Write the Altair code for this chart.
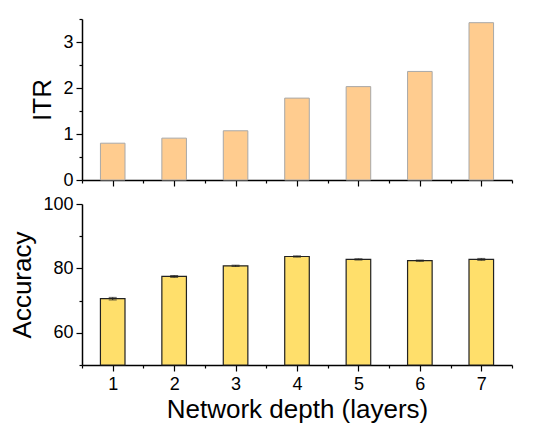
import altair as alt
import pandas as pd

depth = [1, 2, 3, 4, 5, 6, 7]
itr = [0.80, 0.91, 1.07, 1.78, 2.03, 2.36, 3.42]
accuracy = [70.6, 77.5, 80.8, 83.7, 82.8, 82.4, 82.8]
acc_err = [0.4, 0.3, 0.2, 0.2, 0.2, 0.2, 0.3]

x_ticks = [0.5, 1, 1.5, 2, 2.5, 3, 3.5, 4, 4.5, 5, 5.5, 6, 6.5, 7, 7.5]
itr_ticks = [0, 0.5, 1, 1.5, 2, 2.5, 3, 3.5]
acc_ticks = [50, 60, 70, 80, 90, 100]

df = pd.DataFrame({"depth": depth, "itr": itr, "acc": accuracy, "err": acc_err})

FONT = "Liberation Sans"
W, H = 430, 161

x_scale = alt.Scale(domain=[0.5, 7.5], nice=False, zero=False)


def x_axis(show_labels, title):
    return alt.Axis(
        values=x_ticks,
        labelExpr="datum.value % 1 == 0 ? format(datum.value, 'd') : ''",
        labels=show_labels,
        labelOverlap=False,
        tickSize={"condition": {"test": "datum.value % 1 != 0", "value": 3}, "value": 6},
        title=title,
        grid=False,
    )


top = (
    alt.Chart(df)
    .transform_calculate(lo="datum.depth - 0.2", hi="datum.depth + 0.2")
    .mark_bar(color="#FFCC8F", stroke="#A8A8A8", strokeWidth=1)
    .encode(
        x=alt.X("lo:Q", scale=x_scale, axis=x_axis(False, None)),
        x2="hi:Q",
        y=alt.Y(
            "itr:Q",
            scale=alt.Scale(domain=[0, 3.5], nice=False),
            axis=alt.Axis(
                values=itr_ticks,
                labelExpr="datum.value % 1 == 0 ? format(datum.value, 'd') : ''",
                labelOverlap=False,
                tickSize={"condition": {"test": "datum.value % 1 != 0", "value": 3}, "value": 6},
                title="ITR",
                grid=False,
            ),
        ),
        y2=alt.datum(0),
    )
    .properties(width=W, height=H)
)

base_bot = alt.Chart(df).transform_calculate(
    lo="datum.depth - 0.2", hi="datum.depth + 0.2",
    elo="datum.acc - datum.err", ehi="datum.acc + datum.err",
)

acc_scale = alt.Scale(domain=[50, 100], nice=False, zero=False)
acc_axis = alt.Axis(
    values=acc_ticks,
    labelExpr="datum.value % 20 == 0 ? format(datum.value, 'd') : ''",
    labelOverlap=False,
    tickSize={"condition": {"test": "datum.value % 20 != 0", "value": 3}, "value": 6},
    title="Accuracy",
    grid=False,
)
bx_axis = x_axis(True, "Network depth (layers)")

bars_bot = base_bot.mark_bar(color="#FFDF6B", stroke="#222222", strokeWidth=1.2).encode(
    x=alt.X("lo:Q", scale=x_scale, axis=bx_axis),
    x2="hi:Q",
    y=alt.Y("acc:Q", scale=acc_scale, axis=acc_axis),
    y2=alt.datum(50),
)

err_rule = base_bot.mark_rule(color="#222222", strokeWidth=1).encode(
    x=alt.X("depth:Q", scale=x_scale, axis=bx_axis),
    y=alt.Y("elo:Q", scale=acc_scale, axis=acc_axis),
    y2="ehi:Q",
)
err_cap_hi = base_bot.mark_tick(color="#222222", thickness=1, size=8, orient="horizontal").encode(
    x=alt.X("depth:Q", scale=x_scale, axis=bx_axis),
    y=alt.Y("ehi:Q", scale=acc_scale, axis=acc_axis),
)
err_cap_lo = base_bot.mark_tick(color="#222222", thickness=1, size=8, orient="horizontal").encode(
    x=alt.X("depth:Q", scale=x_scale, axis=bx_axis),
    y=alt.Y("elo:Q", scale=acc_scale, axis=acc_axis),
)

bottom = alt.layer(bars_bot, err_rule, err_cap_hi, err_cap_lo).properties(width=W, height=H)

chart = (
    alt.vconcat(top, bottom, spacing=24, bounds="flush")
    .properties(padding={"left": 1, "top": 1, "right": 10, "bottom": 5}, background="white")
    .configure_view(stroke="transparent")
    .configure_axis(
        labelFont=FONT,
        titleFont=FONT,
        labelFontSize=18,
        titleFontSize=26,
        titleFontWeight="normal",
        labelColor="black",
        titleColor="black",
        domainColor="black",
        tickColor="black",
        domainWidth=1.5,
        tickWidth=1.2,
        labelPadding=3,
        titlePadding=7,
    )
    .configure_axisX(labelPadding=4, titlePadding=3)
)

chart.save("out.html", embed_options={"renderer": "svg", "actions": False})
